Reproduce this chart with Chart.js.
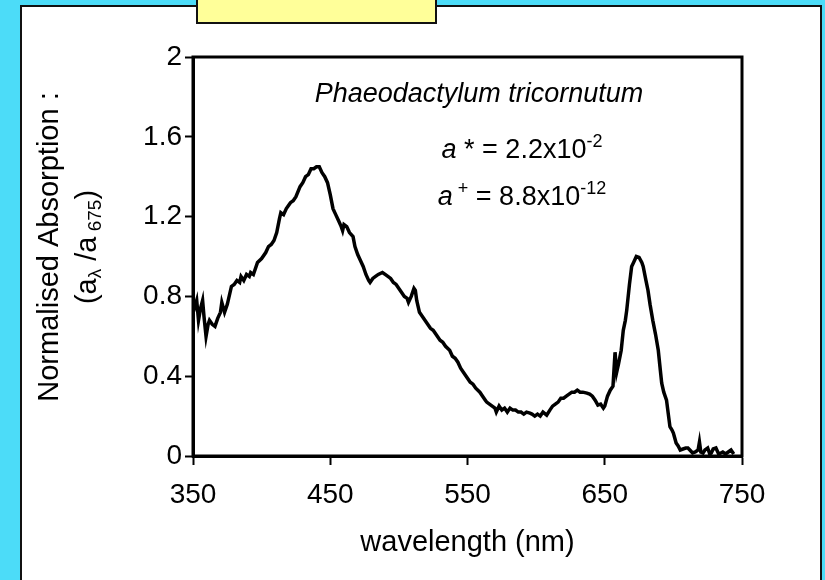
<!DOCTYPE html>
<html lang="en">
<head>
    <meta charset="UTF-8">
    <title>Phaeodactylum tricornutum absorption</title>
    <style>
        body {
    margin: 0;
    padding: 0;
    background-color: #4CDCF8;
    width: 825px;
    height: 580px;
    overflow: hidden;
    position: relative;
    font-family: 'Liberation Sans', Arial, sans-serif;
}

.panel {
    position: absolute;
    left: 20px;
    top: 5px;
    width: 798px;
    height: 600px;
    background: #fff;
    border: 2px solid #111;
}

.tag {
    position: absolute;
    left: 196px;
    top: -3px;
    width: 237px;
    height: 23px;
    background: #FFFF99;
    border: 2px solid #111;
    z-index: 3;
}

.chart-box {
    position: absolute;
    left: 0;
    top: 0;
    width: 825px;
    height: 580px;
    z-index: 2;
}

    </style>
</head>
<body>
    <div class="panel"></div>
    <div class="tag"></div>
    <div class="chart-box">
        <canvas id="spectrumChart"></canvas>
    </div>
    <script src="https://cdn.jsdelivr.net/npm/chart.js"></script>
    <script>
// wavelength (nm) and normalised absorption
const wavelengths = [
    350, 351, 352.7, 354, 355.5, 357, 358, 359.5, 361, 362, 364, 366, 368, 370, 371, 373, 375, 378, 380, 382,
    384, 385, 387, 389, 391, 392, 394, 397, 400, 403, 405, 407, 409, 411, 413, 414, 416, 418, 421, 423,
    425, 428, 430, 432, 434, 436, 438, 440, 442, 444, 446, 448, 450, 452, 454, 456, 458, 459, 460, 462,
    464, 466.6, 468, 470, 472, 474, 476, 478, 479, 481, 483, 485, 488, 490, 492, 494, 496, 498, 500, 502,
    504, 506, 507, 509, 511, 512, 513, 515, 517, 519, 521, 523, 525, 527, 530, 532, 534, 537, 539, 541,
    543, 545, 547, 549, 552, 554, 556, 559, 561, 563, 564, 566, 568, 570, 571, 573, 575, 577, 579, 581,
    583, 585, 587, 589, 591, 593, 595.5, 597, 599, 601, 603, 605, 607.7, 610, 612, 614, 616, 618, 620, 622,
    624, 626, 628, 630, 632, 634, 637, 639, 641, 643, 645, 647, 649, 650, 652, 654, 656, 657.5, 658.7, 660,
    662, 663.5, 665, 666, 668, 669.6, 671, 673, 675, 677, 678, 680, 681.5, 683, 685, 687, 689, 690.5, 691.5, 693,
    695, 696.5, 697.5, 699, 700, 701, 702, 703.5, 705, 707, 709, 710.6, 712, 714, 716, 718, 719, 720, 721.6, 723,
    725, 726.5, 727.6, 729, 731, 733, 734.6, 736, 738, 740, 742, 744
];
const absorption = [
    0.79, 0.74, 0.78, 0.68, 0.74, 0.78, 0.70, 0.60, 0.66, 0.68, 0.66, 0.65, 0.69, 0.72, 0.77, 0.72, 0.76, 0.85, 0.86, 0.88,
    0.87, 0.90, 0.88, 0.91, 0.90, 0.92, 0.91, 0.97, 0.99, 1.02, 1.05, 1.06, 1.08, 1.12, 1.19, 1.22, 1.21, 1.24, 1.27, 1.28,
    1.30, 1.35, 1.37, 1.40, 1.41, 1.44, 1.44, 1.45, 1.45, 1.42, 1.40, 1.37, 1.31, 1.24, 1.21, 1.18, 1.15, 1.13, 1.16, 1.15,
    1.12, 1.10, 1.05, 1.01, 0.98, 0.95, 0.91, 0.88, 0.87, 0.89, 0.90, 0.91, 0.92, 0.91, 0.90, 0.89, 0.87, 0.86, 0.84, 0.82,
    0.80, 0.79, 0.77, 0.80, 0.84, 0.83, 0.78, 0.72, 0.70, 0.68, 0.66, 0.64, 0.63, 0.61, 0.58, 0.57, 0.55, 0.53, 0.50, 0.49,
    0.47, 0.44, 0.42, 0.40, 0.37, 0.36, 0.34, 0.32, 0.30, 0.28, 0.27, 0.26, 0.25, 0.24, 0.22, 0.25, 0.23, 0.24, 0.22, 0.24,
    0.23, 0.23, 0.22, 0.22, 0.21, 0.22, 0.215, 0.21, 0.20, 0.21, 0.20, 0.22, 0.205, 0.23, 0.25, 0.26, 0.27, 0.29, 0.29, 0.30,
    0.31, 0.32, 0.32, 0.33, 0.32, 0.32, 0.315, 0.31, 0.30, 0.28, 0.255, 0.26, 0.24, 0.25, 0.30, 0.33, 0.35, 0.52, 0.42, 0.46,
    0.53, 0.63, 0.68, 0.73, 0.86, 0.95, 0.97, 1.00, 0.995, 0.97, 0.95, 0.88, 0.83, 0.76, 0.68, 0.61, 0.53, 0.43, 0.365, 0.32,
    0.28, 0.20, 0.147, 0.13, 0.115, 0.09, 0.065, 0.05, 0.03, 0.035, 0.04, 0.04, 0.03, 0.015, 0.02, 0.03, 0.07, 0.02, 0.015, 0.03,
    0.04, 0.01, 0.015, 0.035, 0.04, 0.01, 0.015, 0.02, 0.01, 0.02, 0.03, 0.01
];
const xTicks = [350, 450, 550, 650, 750];
const yTicks = [0, 0.4, 0.8, 1.2, 1.6, 2];

const FONT = "'Liberation Sans', Arial, sans-serif";

// draws a run of text pieces (size, italic, vertical shift) centred on cx
function drawRuns(ctx, runs, cx, baseline) {
    let total = 0;
    runs.forEach(r => {
        ctx.font = (r.italic ? 'italic ' : '') + r.size + 'px ' + FONT;
        r.w = ctx.measureText(r.text).width;
        total += r.w;
    });
    let x = cx - total / 2;
    ctx.textAlign = 'left';
    ctx.textBaseline = 'alphabetic';
    runs.forEach(r => {
        ctx.font = (r.italic ? 'italic ' : '') + r.size + 'px ' + FONT;
        ctx.fillText(r.text, x, baseline + (r.dy || 0));
        x += r.w;
    });
}

const frameAndText = {
    id: 'frameAndText',
    afterDraw(chart) {
        const ctx = chart.ctx;
        const a = chart.chartArea;
        ctx.save();
        ctx.strokeStyle = '#000';
        ctx.lineWidth = 3;
        ctx.strokeRect(a.left, a.top, a.right - a.left, a.bottom - a.top);

        ctx.fillStyle = '#000';
        // species name and coefficients
        drawRuns(ctx, [{ text: 'Phaeodactylum tricornutum', size: 27, italic: true }], 479, 102);
        drawRuns(ctx, [
            { text: 'a', size: 27, italic: true },
            { text: ' * = 2.2x10', size: 27 },
            { text: '-2', size: 18, dy: -11 }
        ], 522, 158);
        drawRuns(ctx, [
            { text: 'a', size: 27, italic: true },
            { text: ' +', size: 18, dy: -11 },
            { text: ' = 8.8x10', size: 27 },
            { text: '-12', size: 18, dy: -11 }
        ], 522, 205);

        // y axis title, two rotated lines
        ctx.translate(0, 247);
        ctx.rotate(-Math.PI / 2);
        drawRuns(ctx, [{ text: 'Normalised Absorption :', size: 29 }], 0, 58);
        drawRuns(ctx, [
            { text: '(a', size: 29 },
            { text: 'λ', size: 19, dy: 5 },
            { text: ' /a', size: 29 },
            { text: ' 675', size: 19, dy: 5 },
            { text: ')', size: 29 }
        ], 0, 96);
        ctx.restore();
    }
};

new Chart(document.getElementById('spectrumChart'), {
    type: 'line',
    data: {
        datasets: [{
            data: wavelengths.map((w, i) => ({ x: w, y: absorption[i] })),
            borderColor: '#000',
            borderWidth: 3.5,
            pointRadius: 0,
            tension: 0,
            fill: false
        }]
    },
    options: {
        responsive: true,
        maintainAspectRatio: false,
        animation: false,
        layout: { padding: { left: 0, top: 57, right: 83, bottom: 0 } },
        plugins: {
            legend: { display: false },
            tooltip: { enabled: false }
        },
        scales: {
            x: {
                type: 'linear',
                min: 350,
                max: 750,
                afterBuildTicks: s => { s.ticks = xTicks.map(v => ({ value: v })); },
                afterFit: s => { s.height = 124; },
                grid: { drawOnChartArea: false, tickLength: 9, tickWidth: 2, color: '#000' },
                border: { color: '#000', width: 3 },
                ticks: { color: '#000', padding: 13, maxRotation: 0, font: { family: FONT, size: 28 } },
                title: {
                    display: true,
                    text: 'wavelength (nm)',
                    color: '#000',
                    font: { family: FONT, size: 29 },
                    padding: { top: 0, bottom: 20 }
                }
            },
            y: {
                min: 0,
                max: 2,
                afterBuildTicks: s => { s.ticks = yTicks.map(v => ({ value: v })); },
                afterFit: s => { s.width = 193; },
                grid: { drawOnChartArea: false, tickLength: 8, tickWidth: 2, color: '#000' },
                border: { color: '#000', width: 3 },
                ticks: {
                    color: '#000',
                    padding: 3,
                    font: { family: FONT, size: 28 },
                    callback: v => String(v)
                }
            }
        }
    },
    plugins: [frameAndText]
});
    </script>
</body>
</html>
